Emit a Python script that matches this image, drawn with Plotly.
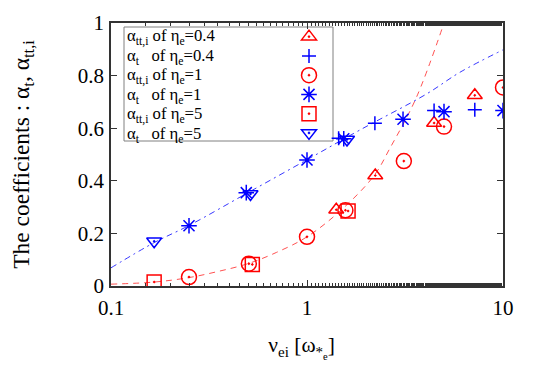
import plotly.graph_objects as go

# ---- data ----
# eta_e = 0.4
nu_04 = [1.41, 2.23, 4.45, 7.18]
att_04 = [0.29, 0.42, 0.62, 0.725]
nu_04p = [1.45, 2.22, 4.45, 7.18]
at_04 = [0.562, 0.619, 0.667, 0.67]
# eta_e = 1
nu_1 = [0.25, 0.505, 1.0, 1.57, 3.12, 5.0, 10.0]
att_1 = [0.034, 0.085, 0.187, 0.288, 0.475, 0.606, 0.755]
nu_1s = [0.25, 0.49, 1.0, 1.54, 3.09, 5.0, 10.0]
at_1 = [0.229, 0.355, 0.479, 0.56, 0.634, 0.663, 0.667]
# eta_e = 5
nu_5 = [0.166, 0.526, 1.62]
att_5 = [0.015, 0.082, 0.285]
nu_5t = [0.166, 0.515, 1.6]
at_5 = [0.17, 0.35, 0.557]
# fit curves
fit_tt_x = [0.1, 0.166, 0.25, 0.35, 0.5, 0.7, 1.0, 1.5, 2.2, 2.65, 3.6, 5.0]
fit_tt_y = [0.007, 0.015, 0.032, 0.055, 0.085, 0.128, 0.187, 0.29, 0.42, 0.524, 0.714, 1.0]
fit_t_x = [0.1, 0.166, 0.25, 0.5, 1.0, 1.86, 4.07, 6.01, 10.0]
fit_t_y = [0.069, 0.165, 0.23, 0.355, 0.48, 0.593, 0.73, 0.812, 0.898]

x_ticks = [0.1, 1, 10]
x_ticklabels = ["0.1", "1", "10"]
y_ticks = [0, 0.2, 0.4, 0.6, 0.8, 1]
y_ticklabels = ["0", "0.2", "0.4", "0.6", "0.8", "1"]

legend_texts = [
    "α<sub>tt,i</sub> of η<sub>e</sub>=0.4",
    "α<sub>t</sub>&nbsp;&nbsp; of η<sub>e</sub>=0.4",
    "α<sub>tt,i</sub> of η<sub>e</sub>=1",
    "α<sub>t</sub>&nbsp;&nbsp; of η<sub>e</sub>=1",
    "α<sub>tt,i</sub> of η<sub>e</sub>=5",
    "α<sub>t</sub>&nbsp;&nbsp; of η<sub>e</sub>=5",
]

RED = "#ff0000"
BLUE = "#0000ff"
FONT = "Liberation Serif"

fig = go.Figure()
fig.add_trace(go.Scatter(x=fit_tt_x, y=fit_tt_y, mode="lines", line_shape="spline",
                         line=dict(color="rgba(255,50,50,0.85)", width=1, dash="6px,5px"),
                         showlegend=False, hoverinfo="skip"))
fig.add_trace(go.Scatter(x=fit_t_x, y=fit_t_y, mode="lines", line_shape="spline",
                         line=dict(color="rgba(20,20,255,0.85)", width=1, dash="6px,4px,2px,4px"),
                         showlegend=False, hoverinfo="skip"))

def mk(x, y, sym, color, size):
    fig.add_trace(go.Scatter(x=x, y=y, mode="markers", name=" ",
                             marker=dict(symbol=sym, size=size, color=color,
                                         line=dict(color=color, width=1.5))))

mk(nu_04, att_04, "triangle-up-open-dot", RED, 13)
mk(nu_04p, at_04, "cross-thin-open", BLUE, 10)
mk(nu_1, att_1, "circle-open-dot", RED, 15)
mk(nu_1s, at_1, "asterisk-open", BLUE, 13)
mk(nu_5, att_5, "square-open-dot", RED, 14)
mk(nu_5t, at_5, "triangle-down-open-dot", BLUE, 13)

# page body has an 8px margin; target plot area on screen: x 111..503, y 23..286
OFF = 8
SW, SH = 545, 382
PL, PR, PT, PB = 111, 503, 23, 286
W, H = SW - 2 * OFF, SH - 2 * OFF
L, R, T, B = PL - OFF, SW - PR - OFF, PT - OFF, SH - PB - OFF
pw, ph = PR - PL, PB - PT

def sx(px):
    return (px - PL) / pw

def sy(py):
    return (PB - py) / ph

row_y = [35 + 19.6 * i for i in range(len(legend_texts))]
annotations = []
for txt, ry in zip(legend_texts, row_y):
    annotations.append(dict(text=txt, x=sx(125), y=sy(ry + 2), xref="paper", yref="paper",
                            xanchor="left", yanchor="middle", showarrow=False,
                            font=dict(family=FONT, size=16.7, color="black")))

fig.update_layout(
    width=W, height=H,
    margin=dict(l=L, r=R, t=T, b=B, autoexpand=False),
    paper_bgcolor="white", plot_bgcolor="white",
    font=dict(family=FONT, size=21, color="black"),
    showlegend=True,
    legend=dict(x=sx(289), y=sy(85), xanchor="left", yanchor="middle",
                bgcolor="rgba(0,0,0,0)", borderwidth=0, font=dict(size=12.5),
                tracegroupgap=0),
    annotations=annotations,
    shapes=[dict(type="rect", xref="paper", yref="paper",
                 x0=sx(124), x1=sx(333), y0=sy(141), y1=sy(27),
                 line=dict(color="#808080", width=1), layer="below")],
)
fig.update_xaxes(type="log", range=[-1, 1], tickvals=x_ticks, ticktext=x_ticklabels,
                 automargin=False, ticklabelstandoff=2,
                 ticks="inside", ticklen=6, tickwidth=1, tickcolor="#333",
                 minor=dict(ticks="inside", ticklen=3, tickcolor="#333", showgrid=False),
                 showline=True, linecolor="#333", linewidth=1.5, mirror="allticks",
                 showgrid=False, zeroline=False,
                 title=dict(text="ν<sub>ei</sub> [ω<sub>*<sub>e</sub></sub>]&nbsp;&nbsp;", standoff=18,
                            font=dict(size=21.5)))
fig.update_yaxes(range=[0, 1], tickvals=y_ticks, ticktext=y_ticklabels,
                 automargin=False, ticklabelstandoff=1,
                 ticks="inside", ticklen=6, tickwidth=1, tickcolor="#333",
                 showline=True, linecolor="#333", linewidth=1.5, mirror="allticks",
                 showgrid=False, zeroline=False,
                 title=dict(text="The coefficients : α<sub>t</sub>, α<sub>tt,i</sub>", standoff=42,
                            font=dict(size=23.5)))

fig.write_html("out.html")
